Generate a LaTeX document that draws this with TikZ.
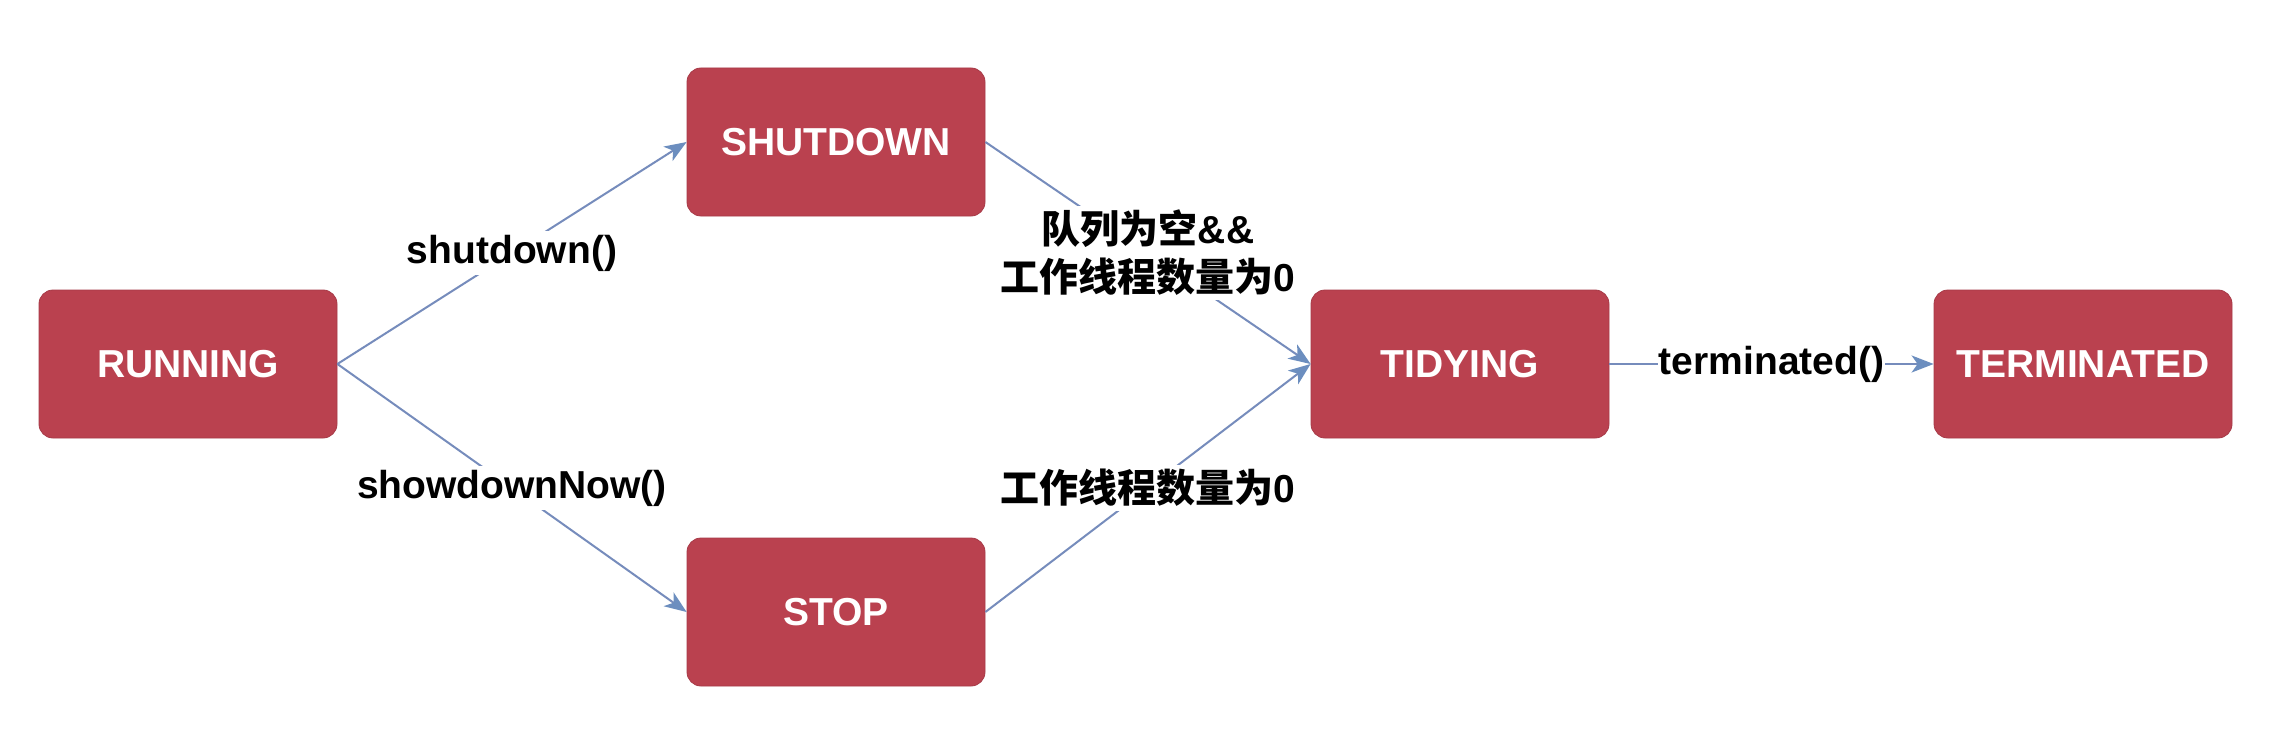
\documentclass[tikz,border=0pt]{standalone}
\usepackage{fontspec}
\setmainfont{Liberation Sans}
\newfontfamily\cjk{Noto Sans CJK SC}
\usetikzlibrary{arrows.meta}
\definecolor{boxred}{RGB}{186,65,79}
\definecolor{edgeblue}{RGB}{118,140,188}
\definecolor{tipblue}{RGB}{108,142,191}
\tikzset{
  state/.style={rectangle, rounded corners=14pt, fill=boxred, draw=boxred!90!black, line width=0.8pt,
    minimum width=298pt, minimum height=148pt, inner sep=0pt,
    text=white, font=\fontsize{39}{47}\selectfont\bfseries},
  trans/.style={draw=edgeblue, line width=2pt,
    -{Stealth[length=22pt,width=17pt,inset=6pt,color=tipblue,fill=tipblue]}},
  elabel/.style={fill=white, inner sep=4pt, text=black, align=center,
    font=\fontsize{39}{48}\selectfont\bfseries}
}
\begin{document}
\begin{tikzpicture}[x=1pt,y=-1pt]
\useasboundingbox (0,0) rectangle (2282,746);
\fill[white] (0,0) rectangle (2282,746);
\node[state] (run) at (188,364) {RUNNING};
\node[state] (shut) at (836,142) {SHUTDOWN};
\node[state] (stop) at (836,612) {STOP};
\node[state] (tidy) at (1460,364) {TIDYING};
\node[state] (term) at (2083,364) {TERMINATED};
\draw[trans] (run.east) -- node[elabel] (l1) {shutdown()} (shut.west);
\draw[trans] (run.east) -- node[elabel] (l2) {showdownNow()} (stop.west);
\draw[trans] (shut.east) -- node[elabel] (l3) {{\cjk\bfseries 队列为空}\&\&\\{\cjk\bfseries 工作线程数量为}0} (tidy.west);
\draw[trans] (stop.east) -- node[elabel] (l4) {{\cjk\bfseries 工作线程数量为}0} (tidy.west);
\draw[trans] (tidy.east) -- node[elabel, inner sep=1pt] (l5) {terminated()} (term.west);
\end{tikzpicture}
\end{document}
